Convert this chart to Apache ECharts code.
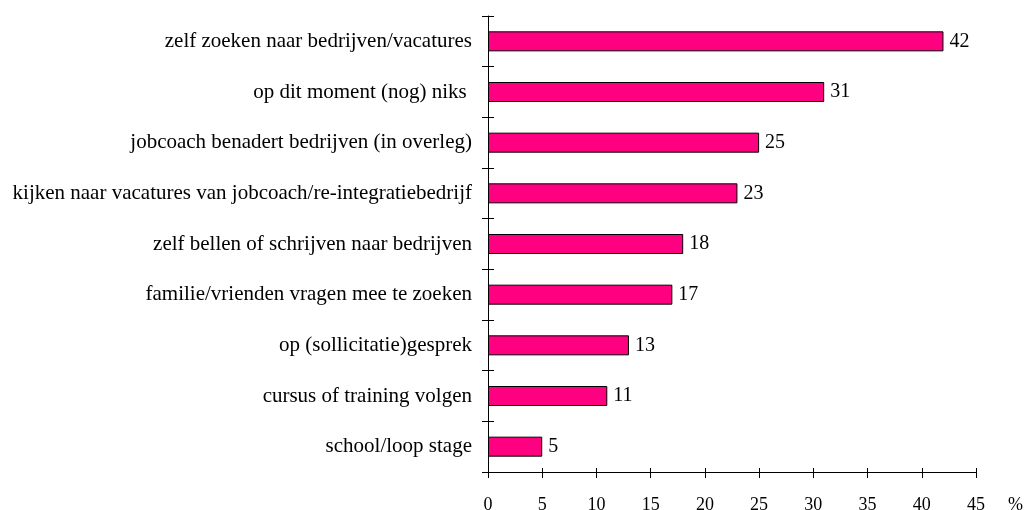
<!DOCTYPE html>
<html>
<head>
<meta charset="utf-8">
<script src="https://cdn.jsdelivr.net/npm/echarts@6/dist/echarts.min.js"></script>
<style>
  html, body { margin: 0; padding: 0; background: #fff; }
  #chart { width: 1028px; height: 510px; }
</style>
</head>
<body>
<div id="chart"></div>
<script>
const categories = [
  "zelf zoeken naar bedrijven/vacatures",
  "op dit moment (nog) niks ",
  "jobcoach benadert bedrijven (in overleg)",
  "kijken naar vacatures van jobcoach/re-integratiebedrijf",
  "zelf bellen of schrijven naar bedrijven",
  "familie/vrienden vragen mee te zoeken",
  "op (sollicitatie)gesprek",
  "cursus of training volgen",
  "school/loop stage"
];
const percentages = [42, 31, 25, 23, 18, 17, 13, 11, 5];
const axisMin = 0;
const axisMax = 45;
const axisStep = 5;
const unitLabel = "%";

const font = "'Liberation Serif', 'Times New Roman', serif";
const chart = echarts.init(document.getElementById("chart"));

chart.setOption({
  animation: false,
  grid: { left: 488, right: 52, top: 16, bottom: 38, containLabel: false, outerBoundsMode: "none" },
  graphic: [
    {
      type: "text",
      left: 1008,
      top: 496,
      style: { text: unitLabel, fontFamily: font, fontSize: 18, fill: "#000" }
    }
  ],
  xAxis: [
    {
      type: "value",
      min: axisMin, max: axisMax, interval: axisStep,
      axisLine: { show: true, lineStyle: { color: "#000", width: 1 } },
      axisTick: { show: true, length: 6, lineStyle: { color: "#000" } },
      axisLabel: { fontFamily: font, fontSize: 18, color: "#000", margin: 24 },
      splitLine: { show: false }
    },
    {
      type: "value",
      position: "bottom",
      min: axisMin, max: axisMax, interval: axisStep,
      axisLine: { show: false },
      axisTick: { show: true, inside: true, length: 4, lineStyle: { color: "#000" } },
      axisLabel: { show: false },
      splitLine: { show: false }
    }
  ],
  yAxis: [
    {
      type: "category",
      data: categories,
      inverse: true,
      axisLine: { show: true, lineStyle: { color: "#000", width: 1 } },
      axisTick: { show: true, length: 6, lineStyle: { color: "#000" } },
      axisLabel: { fontFamily: font, fontSize: 21, color: "#000", margin: 16, padding: [8, 0, 0, 0] }
    },
    {
      type: "category",
      data: categories,
      inverse: true,
      position: "left",
      axisLine: { show: false },
      axisTick: { show: true, inside: true, length: 6, lineStyle: { color: "#000" } },
      axisLabel: { show: false }
    }
  ],
  series: [
    {
      type: "bar",
      data: percentages,
      barWidth: 20,
      itemStyle: { color: "#FF0080", borderColor: "#000", borderWidth: 1 },
      label: {
        show: true,
        position: "right",
        distance: 6,
        fontFamily: font,
        fontSize: 20,
        color: "#000"
      }
    }
  ]
});
</script>
</body>
</html>
